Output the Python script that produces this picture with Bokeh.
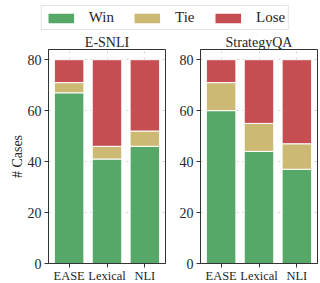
from bokeh.plotting import figure
from bokeh.layouts import column, row
from bokeh.models import Legend, LegendItem, FixedTicker, ColumnDataSource, FactorRange, Range1d
from bokeh.embed import file_html
from bokeh.resources import INLINE

methods = ["EASE", "Lexical", "NLI"]
outcomes = ["Win", "Tie", "Lose"]
colors = ["#55A868", "#CCB974", "#C44E52"]
esnli_win = [67, 41, 46]
esnli_tie = [4, 5, 6]
esnli_lose = [9, 34, 28]
sqa_win = [60, 44, 37]
sqa_tie = [11, 11, 10]
sqa_lose = [9, 25, 33]
y_ticks = [0, 20, 40, 60, 80]

FONT = "Liberation Serif"
DARK = "#262626"


def panel(title, win, tie, lose, width, bl, br, ylabel=None):
    p = figure(x_range=FactorRange(*methods, range_padding=0.03), y_range=Range1d(0, 84),
               width=width, frame_height=214, output_backend="svg", toolbar_location=None,
               title=title, min_border_left=bl, min_border_right=br,
               min_border_top=0, min_border_bottom=0)
    src = ColumnDataSource(dict(method=methods, Win=win, Tie=tie, Lose=lose))
    p.vbar_stack(outcomes, x="method", width=0.78, fill_color=colors,
                 line_color="white", line_width=1, source=src)
    p.title.align = "center"
    p.title.text_font = FONT
    p.title.text_font_size = "14px"
    p.title.text_font_style = "normal"
    p.title.text_color = DARK
    p.title.standoff = 0
    p.outline_line_color = "#333333"
    p.outline_line_width = 1
    for ax in (p.xaxis, p.yaxis):
        ax.axis_line_color = "#333333"
        ax.major_tick_line_color = "#333333"
        ax.major_tick_out = 4
        ax.major_tick_in = 0
        ax.minor_tick_line_color = None
        ax.major_label_text_font = FONT
        ax.major_label_text_color = DARK
    p.xaxis.major_label_text_font_size = "12.5px"
    p.yaxis.major_label_text_font_size = "14px"
    p.xaxis.major_label_standoff = 1
    p.xaxis.axis_label_standoff = 0
    p.yaxis.major_label_standoff = 3
    p.yaxis.ticker = FixedTicker(ticks=y_ticks)
    if ylabel:
        p.yaxis.axis_label = ylabel
        p.yaxis.axis_label_text_font = FONT
        p.yaxis.axis_label_text_font_style = "normal"
        p.yaxis.axis_label_text_font_size = "14px"
        p.yaxis.axis_label_text_color = DARK
        p.yaxis.axis_label_standoff = 0
    for g in (p.xgrid, p.ygrid):
        g.grid_line_color = "#cfcfcf"
        g.grid_line_dash = "dotted"
    return p


p1 = panel("E-SNLI", esnli_win, esnli_tie, esnli_lose, 170, 48, 5, "# Cases")
p2 = panel("StrategyQA", sqa_win, sqa_tie, sqa_lose, 149, 30, 2)

lg = figure(width=319, height=32, output_backend="svg", toolbar_location=None,
            x_range=Range1d(0, 1), y_range=Range1d(0, 1),
            min_border=0, min_border_left=11)
lg.axis.visible = False
lg.grid.visible = False
lg.outline_line_color = None
# legend proxies: placed outside the visible range so only the legend shows them
src = ColumnDataSource(dict(x=[10], Win=[1], Tie=[1], Lose=[1]))
rs = lg.vbar_stack(outcomes, x="x", width=0.5, fill_color=colors, line_color=None, source=src)
legend = Legend(items=[LegendItem(label=o, renderers=[r]) for o, r in zip(outcomes, rs)],
                orientation="horizontal", location="top_center")
legend.label_text_font = FONT
legend.label_text_font_size = "15px"
legend.label_text_color = DARK
legend.label_height = 14
legend.glyph_width = 32
legend.glyph_height = 12
legend.label_standoff = 12
legend.spacing = 17
legend.padding = 3
legend.margin = 5
legend.border_line_color = "#c8c8c8"
legend.border_line_width = 1
legend.background_fill_alpha = 1
lg.add_layout(legend, "center")

layout = column(lg, row(p1, p2, spacing=0), spacing=0)
open("out.html", "w").write(file_html(layout, INLINE))
